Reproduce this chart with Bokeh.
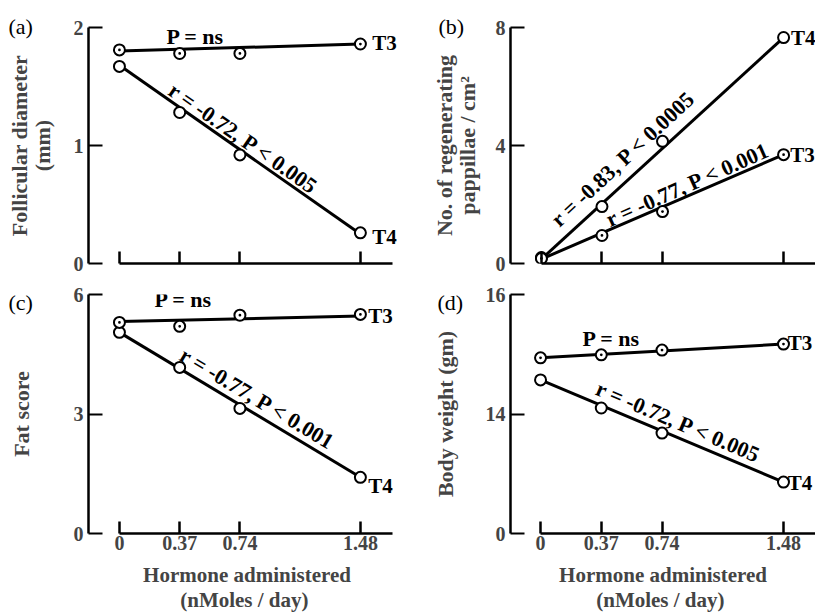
from bokeh.plotting import figure
from bokeh.layouts import gridplot
from bokeh.models import Range1d, Label, FixedTicker
from bokeh.embed import file_html
from bokeh.resources import INLINE
import math

# ---------------- data ----------------
dose = [0, 0.37, 0.74, 1.48]
fit_x = [0, 1.48]

a_t3 = [1.81, 1.78, 1.78, 1.86]
a_t4 = [1.67, 1.28, 0.92, 0.26]
a_t3_fit = [1.80, 1.86]
a_t4_fit = [1.68, 0.25]

b_t4 = [0.20, 1.93, 4.14, 7.66]
b_t3 = [0.17, 0.95, 1.76, 3.69]
b_t4_fit = [0.15, 7.66]
b_t3_fit = [0.15, 3.69]

c_t3 = [5.30, 5.20, 5.48, 5.50]
c_t4 = [5.05, 4.17, 3.14, 1.41]
c_t3_fit = [5.32, 5.46]
c_t4_fit = [5.05, 1.41]

d_t3 = [14.94, 14.99, 15.07, 15.17]
d_t4 = [14.57, 14.10, 13.68, 12.86]
d_t3_fit = [14.94, 15.17]
d_t4_fit = [14.57, 12.86]

a_yticks = [0, 1, 2]
b_yticks = [0, 4, 8]
c_yticks = [0, 3, 6]
d_yticks = [12, 14, 16]
d_ytick_labels = {12: "0", 14: "14", 16: "16"}

FONT = "Liberation Serif"


def make_panel(width, height, mb_left, mb_right, mb_top, mb_bottom,
               xr, xbounds, yr, yticks, ylabel, ylabel_standoff,
               show_xlabels, tag, tag_offset, tag_standoff):
    p = figure(width=width, height=height, output_backend="svg",
               toolbar_location=None, x_range=Range1d(*xr),
               y_range=Range1d(*yr), min_border_left=mb_left,
               min_border_right=mb_right, min_border_top=mb_top,
               min_border_bottom=mb_bottom)
    p.outline_line_color = None
    p.grid.visible = False
    p.background_fill_color = "white"
    p.border_fill_color = "white"

    p.title.text = tag
    p.title.align = "left"
    p.title.offset = tag_offset
    p.title.standoff = tag_standoff
    p.title.text_font = FONT
    p.title.text_font_style = "normal"
    p.title.text_font_size = "22px"
    p.title.text_color = "black"

    xa = p.xaxis[0]
    xa.ticker = FixedTicker(ticks=dose)
    xa.bounds = xbounds
    xa.major_tick_in = 12
    xa.major_tick_out = 0
    xa.minor_tick_line_color = None
    xa.axis_line_width = 2.5
    xa.major_tick_line_width = 2.5
    xa.major_label_text_font = FONT
    xa.major_label_text_font_style = "bold"
    if show_xlabels:
        xa.major_label_standoff = 2
        xa.major_label_text_font_size = "20px"
        xa.axis_label = "Hormone administered\n(nMoles /  day)"
        xa.axis_label_text_font = FONT
        xa.axis_label_text_font_style = "bold"
        xa.axis_label_text_font_size = "21px"
        xa.axis_label_text_line_height = 1.05
        xa.axis_label_standoff = 10
    else:
        xa.major_label_text_font_size = "0px"
        xa.major_label_text_color = None
        xa.major_label_standoff = 0

    ya = p.yaxis[0]
    ya.ticker = FixedTicker(ticks=yticks)
    ya.major_tick_in = 14
    ya.major_tick_out = 0
    ya.minor_tick_line_color = None
    ya.axis_line_width = 2.5
    ya.major_tick_line_width = 2
    ya.major_label_text_font = FONT
    ya.major_label_text_font_style = "bold"
    ya.major_label_text_font_size = "20px"
    ya.major_label_standoff = 5
    ya.axis_label = ylabel
    ya.axis_label_text_font = FONT
    ya.axis_label_text_font_style = "bold"
    ya.axis_label_text_font_size = "22px"
    ya.axis_label_text_line_height = 0.9
    ya.axis_label_standoff = ylabel_standoff
    return p


def add_series(p, t3, t4, t3_fit, t4_fit):
    p.line(fit_x, t3_fit, line_width=3, line_color="black")
    p.line(fit_x, t4_fit, line_width=3, line_color="black")
    p.scatter(dose, t4, marker="circle", size=11, fill_color="white",
              line_color="black", line_width=2)
    p.scatter(dose, t3, marker="circle_dot", size=11, fill_color="white",
              line_color="black", line_width=2)


def lab(p, x, y, text, angle=0, size="22px"):
    p.add_layout(Label(x=x, y=y, text=text, angle=math.radians(angle),
                       text_font=FONT, text_font_style="bold",
                       text_font_size=size, text_align="center",
                       text_baseline="middle", text_color="black"))


LW, RW = 405, 410
TH, BH = 285, 329

pa = make_panel(LW, TH, 88, 0, 27, 20, (-0.190, 1.757), (0, 1.677),
                (0, 2), a_yticks, "Follicular diameter\n(mm)", 16, False,
                "(a)", -80, -23)
add_series(pa, a_t3, a_t4, a_t3_fit, a_t4_fit)
lab(pa, 0.467, 1.924, "P = ns")
lab(pa, 0.762, 1.06, "r = -0.72, P < 0.005", angle=-35)
lab(pa, 1.628, 1.866, "T3", size="21px")
lab(pa, 1.628, 0.227, "T4", size="21px")

pb = make_panel(RW, TH, 104, 0, 27, 22, (-0.189, 1.675), (0, 1.675),
                (0, 8), b_yticks, "No. of regenerating\npappillae / cm\u00b2",
                13, False, "(b)", -72, -23)
add_series(pb, b_t3, b_t4, b_t3_fit, b_t4_fit)
lab(pb, 0.499, 3.56, "r = -0.83, P < 0.0005", angle=43)
lab(pb, 0.895, 2.68, "r = -0.77, P < 0.001", angle=24)
lab(pb, 1.60, 7.66, "T4", size="21px")
lab(pb, 1.595, 3.69, "T3", size="21px")

pc = make_panel(LW, BH, 88, 0, 9, 81, (-0.190, 1.757), (0, 1.677),
                (0, 6), c_yticks, "Fat score", 37, True,
                "(c)", -80, -41)
add_series(pc, c_t3, c_t4, c_t3_fit, c_t4_fit)
lab(pc, 0.393, 5.87, "P = ns")
lab(pc, 0.848, 3.39, "r = -0.77, P < 0.001", angle=-31)
lab(pc, 1.603, 5.47, "T3", size="21px")
lab(pc, 1.603, 1.205, "T4", size="21px")

pd_ = make_panel(RW, BH, 105, 0, 9, 81, (-0.183, 1.675), (0, 1.675),
                 (12, 16), d_yticks, "Body weight (gm)", 25, True,
                 "(d)", -73, -41)
pd_.yaxis[0].major_label_overrides = d_ytick_labels
add_series(pd_, d_t3, d_t4, d_t3_fit, d_t4_fit)
lab(pd_, 0.432, 15.26, "P = ns")
lab(pd_, 0.840, 13.87, "r = -0.72, P < 0.005", angle=-23)
lab(pd_, 1.58, 15.18, "T3", size="21px")
lab(pd_, 1.58, 12.84, "T4", size="21px")

grid = gridplot([[pa, pb], [pc, pd_]], toolbar_location=None)

open("out.html", "w").write(file_html(grid, INLINE))
